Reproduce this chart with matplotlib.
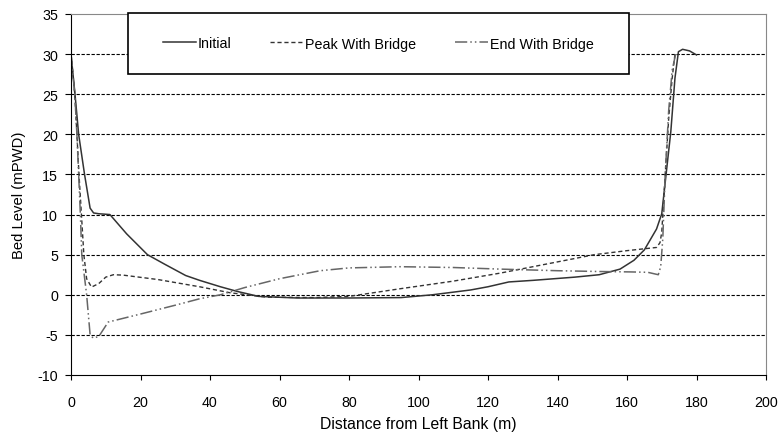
import numpy as np
import matplotlib
matplotlib.use("Agg")
import matplotlib.pyplot as plt
from matplotlib.patches import Rectangle

plt.rcParams['font.family'] = ['Liberation Sans', 'DejaVu Sans']
plt.rcParams['axes.unicode_minus'] = False

#------------------------------------------------------------------------------
# Cross-section data
#------------------------------------------------------------------------------
x_init = [0, 1.15, 2.2, 3.9, 5.5, 6.5, 8, 11.2, 16, 22, 27, 33, 37, 43, 48, 54, 65, 80, 95,
          104, 115, 120, 126, 133, 145, 152, 158, 162, 165, 168.5, 170, 171.5, 172.6,
          173.8, 174.8, 176, 178, 180]
z_init = [30, 25, 20, 15, 10.8, 10.2, 10.1, 10, 7.6, 5, 3.8, 2.4, 1.8, 1.0, 0.4, -0.2, -0.4, -0.4, -0.35,
          0, 0.6, 1.0, 1.6, 1.8, 2.2, 2.5, 3.2, 4.3, 5.6, 8.2, 10.1, 16, 20.3,
          27, 30.3, 30.6, 30.4, 29.9]

x_peak = [0, 1.1, 1.7, 2.3, 3.0, 3.7, 4.5, 5.9, 8, 10, 12.2, 15, 25, 37, 45.8, 56.4, 70, 80,
          94.7, 110, 123.5, 140, 150.6, 160, 168.5, 169.5, 170, 171, 172, 173, 173.8]
z_peak = [30, 25, 20, 15, 10, 5, 2, 0.96, 1.4, 2.2, 2.5, 2.45, 1.9, 1.0, 0.25, -0.3, -0.35, -0.2,
          0.75, 1.7, 2.7, 4.1, 5.0, 5.5, 5.9, 6.5, 7.8, 15, 22, 27, 30]

x_end = [0, 1.1, 1.7, 2.2, 2.7, 3.1, 4.5, 5.5, 6.4, 8, 9.5, 10.7, 20, 30, 37, 43, 50, 60,
         71.7, 80, 94.7, 110, 123.5, 140, 152, 161, 166, 169, 169.7, 170.3, 171, 172, 173, 174]
z_end = [30, 25, 20, 15, 10, 5, 0, -5, -5.4, -5.2, -4.2, -3.4, -2.4, -1.3, -0.5, 0, 0.9, 2.0,
         3.0, 3.35, 3.5, 3.4, 3.2, 3.0, 2.9, 2.85, 2.8, 2.5, 3.5, 7, 15, 23, 28, 30]

labels = ['Initial', 'Peak With Bridge', 'End With Bridge']

W, H = 781, 435
fig = plt.figure(figsize=(W/100, H/100), dpi=100)
ax = fig.add_axes([71/W, 59/H, 695/W, 361/H])

l1, = ax.plot(x_init, z_init, color='#333333', lw=1.1)
l2, = ax.plot(x_peak, z_peak, color='#333333', lw=1.0, ls=(0, (3, 2)))
l3, = ax.plot(x_end, z_end, color='#666666', lw=1.1, ls=(0, (8, 2, 1, 2, 1, 2)))

for yy in range(-5, 35, 5):
    ax.axhline(yy, color='black', lw=0.8, ls=(0, (3, 1.5)), zorder=0)

ax.set_xlim(0, 200)
ax.set_ylim(-10, 35)
ax.set_xticks(range(0, 201, 20))
ax.set_yticks(range(-10, 36, 5))
ax.tick_params(axis='x', labelsize=10.3, direction='out', length=3.6, pad=10.5)
ax.tick_params(axis='y', labelsize=10.3, direction='out', length=4.3, pad=5)
ax.set_xlabel('Distance from Left Bank (m)', fontsize=11.3, labelpad=5)
ax.set_ylabel('Bed Level (mPWD)', fontsize=10.7, labelpad=8)

ax.spines['top'].set_color('#888888')
ax.spines['right'].set_color('#888888')
ax.spines['left'].set_color('black')
ax.spines['bottom'].set_color('black')

# legend box drawn by hand, entries centred in it
box = Rectangle((128/W, (H-75)/H), 501/W, 61/H, transform=fig.transFigure,
                facecolor='white', edgecolor='black', lw=1.2, zorder=5)
fig.patches.append(box)
fig.legend([l1, l2, l3], labels, ncol=3, loc='center',
           bbox_to_anchor=(378.5/W, (H-44.5)/H), frameon=False, fontsize=10.3,
           handlelength=2.3, handletextpad=0.15, columnspacing=2.7)

fig.savefig('out.png', dpi=100)
